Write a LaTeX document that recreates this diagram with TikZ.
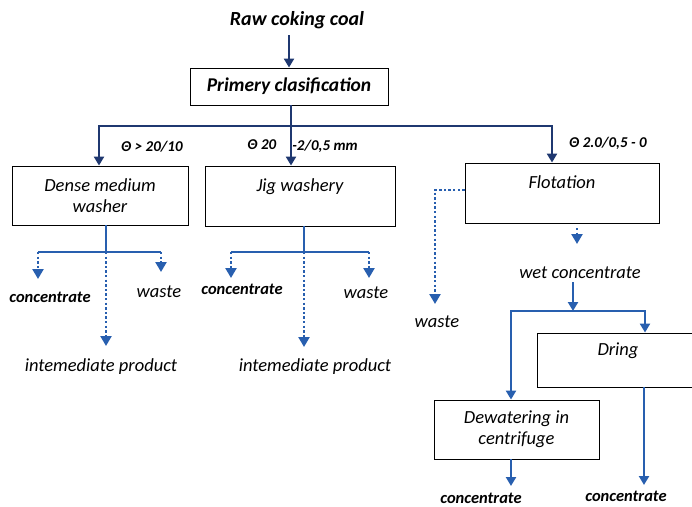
\documentclass[tikz,border=0pt]{standalone}
\usepackage{fontspec}
\setmainfont{Carlito}
\usetikzlibrary{arrows.meta}
\definecolor{navy}{RGB}{31,56,112}
\definecolor{flowblue}{RGB}{40,95,175}
\begin{document}
\begin{tikzpicture}[x=1pt,y=-1pt,
  box/.style={draw=black,line width=0.9pt,inner sep=0pt,align=center,font=\fontsize{18.5}{21}\selectfont\itshape},
  lbl/.style={inner sep=0pt,font=\fontsize{18.5}{21}\selectfont\itshape},
  blbl/.style={inner sep=0pt,font=\fontsize{20}{24}\selectfont\bfseries\itshape},
  clbl/.style={inner sep=0pt,font=\fontsize{16.5}{18}\selectfont\bfseries\itshape},
  tlbl/.style={inner sep=0pt,font=\fontsize{15}{16}\selectfont\bfseries\itshape},
  navyline/.style={draw=navy,line width=2.6pt},
  navytips/.style={navyline,{Triangle[width=10pt,length=9pt]}-{Triangle[width=10pt,length=9pt]}},
  navyarrow/.style={navyline,-{Triangle[width=10pt,length=9pt]}},
  blueline/.style={draw=flowblue,line width=2.4pt},
  bluearrow/.style={blueline,-{Triangle[width=10pt,length=9pt]}},
  bluetips/.style={blueline,{Triangle[width=10pt,length=9pt]}-{Triangle[width=10pt,length=9pt]}},
  dotarrow/.style={blueline,dash pattern=on 2.4pt off 2.2pt,-{Triangle[width=11pt,length=10pt]}}
]
\useasboundingbox (0,0) rectangle (692,506);
\clip (0,0) rectangle (692,506);

% nodes
\node[blbl] (raw) at (297,20) {Raw coking coal};
\node[box,font=\fontsize{19.5}{22}\selectfont\bfseries\itshape,minimum width=198pt,minimum height=37pt] (prim) at (289,86.5) {Primery clasification};
\node[box,minimum width=176pt,minimum height=59pt] (dense) at (100,195.5) {Dense medium\\washer};
\node[box,minimum width=190pt,minimum height=60pt] (jig) at (300,196) {Jig washery\\\mbox{}};
\node[box,minimum width=194pt,minimum height=60pt] (flot) at (562,193) {Flotation\\\mbox{}};
\node[box,minimum width=162pt,minimum height=54pt] (dring) at (618,360) {Dring\\\mbox{}};
\node[box,minimum width=165pt,minimum height=59pt] (dew) at (516.5,429.5) {Dewatering in\\centrifuge};

\node[tlbl] (t1) at (152,147) {Θ > 20/10};
\node[tlbl] (t2) at (262,145) {Θ 20};
\node[tlbl] (t3) at (325,146) {-2/0,5 mm};
\node[tlbl] (t4) at (608,143) {Θ 2.0/0,5 - 0};

\node[clbl] (c1) at (50,297) {concentrate};
\node[lbl] (w1) at (159,292) {waste};
\node[lbl] (i1) at (101,367) {intemediate product};
\node[clbl] (c2) at (242,289) {concentrate};
\node[lbl] (w2) at (366,293) {waste};
\node[lbl] (i2) at (315,367) {intemediate product};
\node[lbl] (w3) at (437,322) {waste};
\node[lbl] (wet) at (580,273) {wet concentrate};
\node[clbl] (c3) at (481,498) {concentrate};
\node[clbl] (c4) at (626,496) {concentrate};

% coordinates
\coordinate (hl) at (99,126);
\coordinate (hr) at (552,126);
\coordinate (dj) at (106,252);
\coordinate (dl) at (38,252);
\coordinate (dr) at (161,252);
\coordinate (jj) at (304,252);
\coordinate (jl) at (231,252);
\coordinate (jr) at (369,252);
\coordinate (fw) at (435,190);
\coordinate (fs) at (577,228);
\coordinate (wj) at (573,311);
\coordinate (wl) at (511,311);
\coordinate (wr) at (645,311);

% top
\draw[navyarrow] (prim.north |- 0,35) -- (prim.north);
\draw[navyarrow] (prim.south -| 291,0) -- (jig.north -| 291,0);
\draw[navytips] (hl |- dense.north) -- (hl) -- (hr) -- (hr |- flot.north);

% dense outputs
\draw[blueline] (dense.south -| dj) -- (dj);
\draw[blueline] (dl) -- (dr);
\draw[dotarrow] (dl) -- (38,279);
\draw[dotarrow] (dr) -- (161,272);
\draw[dotarrow] (dj) -- (106,346);

% jig outputs
\draw[blueline] (jig.south -| jj) -- (jj);
\draw[blueline] (jl) -- (jr);
\draw[dotarrow] (jl) -- (231,278);
\draw[dotarrow] (jr) -- (369,278);
\draw[dotarrow] (jj) -- (304,347);

% flotation outputs
\draw[dotarrow] (flot.west |- fw) -- (fw) -- (435,304);
\draw[dotarrow] (fs) -- (577,244);
\draw[bluearrow] (wet.south -| wj) ++(0,3) -- (wj);
\draw[bluetips] (wl |- dew.north) -- (wl) -- (wr) -- (wr |- dring.north);
\draw[bluearrow] (dew.south -| wl) -- (511,486);
\draw[bluearrow] (dring.south -| 644,0) -- (644,485);
\end{tikzpicture}
\end{document}
